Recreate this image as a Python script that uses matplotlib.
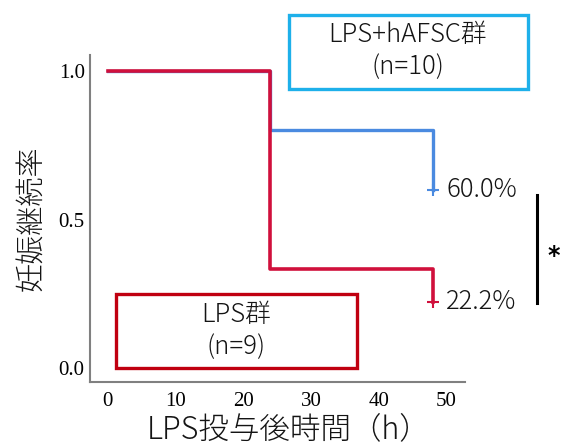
import matplotlib
matplotlib.use("Agg")
import matplotlib.pyplot as plt
from matplotlib.patches import Rectangle

# Kaplan-Meier style data
times = [0, 24, 48]
lps = [1.0, 3 / 9, 2 / 9]
lps_hafsc = [1.0, 0.8, 0.6]
xticks = [0, 10, 20, 30, 40, 50]
yticks = [0.0, 0.5, 1.0]
end_labels = ["60.0%", "22.2%"]

jp = ["Noto Sans CJK JP", "DejaVu Sans"]
red = "#d0103c"
blue = "#4a8ae0"
txt = "#141414"

fig = plt.figure(figsize=(5.64, 4.47), dpi=100)
ax = fig.add_axes([0.16, 0.1454, 0.664, 0.7316])

ax.step(times, lps_hafsc, where="post", color=blue, lw=2.4)
ax.step(times, lps, where="post", color=red, lw=2.6)
ax.plot(times[-1], lps_hafsc[-1], "+", color=blue, ms=9, mew=1.5)
ax.plot(times[-1], lps[-1], "+", color=red, ms=9, mew=1.5)

ax.text(50.0, lps_hafsc[-1], end_labels[0], family=jp, fontsize=18.5,
        weight="light", va="center", ha="left", color=txt)
ax.text(50.0, lps[-1], end_labels[1], family=jp, fontsize=18.5,
        weight="light", va="center", ha="left", color=txt)

# significance bracket
ax.plot([63.4, 63.4], [0.219, 0.583], color="black", lw=2.2, clip_on=False)
ax.text(64.9, 0.355, "*", fontsize=17, weight="bold", ha="left", va="baseline",
        family="DejaVu Sans", clip_on=False)

ax.set_xlim(-2.6, 52.7)
ax.set_ylim(-0.047, 1.054)
ax.set_xticks(xticks)
ax.set_yticks(yticks)
ax.set_xticklabels([str(t) for t in xticks], family="Liberation Serif", fontsize=15)
ax.set_yticklabels(["%.1f" % t for t in yticks], family="Liberation Serif", fontsize=15)
ax.tick_params(axis="x", length=0, pad=7)
ax.tick_params(axis="y", length=0, pad=4)
for s in ["top", "right"]:
    ax.spines[s].set_visible(False)
for s in ["left", "bottom"]:
    ax.spines[s].set_color("#808080")
    ax.spines[s].set_linewidth(1.5)

ax.set_xlabel("LPS投与後時間（h）", family=jp, fontsize=22, weight="light",
              color=txt, labelpad=2)
ax.xaxis.set_label_coords(0.53, -0.095)
ax.xaxis.label.set_va("top")
ax.set_ylabel("妊娠継続率", family=jp, fontsize=21, weight="light",
              color=txt, labelpad=8)

# group boxes
fig.patches.append(Rectangle((0.512, 0.801), 0.424, 0.1655, transform=fig.transFigure,
                             fill=False, edgecolor="#1eb0ea", lw=2.4))
fig.text(0.723, 1 - 35 / 447, "LPS+hAFSC群", family=jp, fontsize=18.5, weight="light",
         ha="center", va="center", color=txt)
fig.text(0.723, 1 - 67 / 447, "(n=10)", family=jp, fontsize=18.5, weight="light",
         ha="center", va="center", color=txt)

fig.patches.append(Rectangle((0.2057, 0.1767), 0.427, 0.1655, transform=fig.transFigure,
                             fill=False, edgecolor="#c00010", lw=2.4))
fig.text(0.419, 1 - 315 / 447, "LPS群", family=jp, fontsize=18.5, weight="light",
         ha="center", va="center", color=txt)
fig.text(0.419, 1 - 347 / 447, "(n=9)", family=jp, fontsize=18.5, weight="light",
         ha="center", va="center", color=txt)

fig.savefig("out.png", dpi=100)
